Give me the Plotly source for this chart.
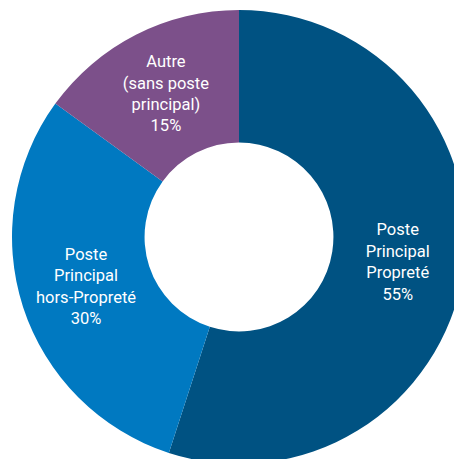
import plotly.graph_objects as go

labels = ["Poste<br>Principal<br>Propreté", "Poste<br>Principal<br>hors-Propreté", "Autre<br>(sans poste<br>principal)"]
values = [55, 30, 15]
colors = ["#005282", "#0079C1", "#7C508A"]

fig = go.Figure(go.Pie(
    labels=labels,
    values=values,
    hole=0.416,
    sort=False,
    direction="clockwise",
    rotation=0,
    marker=dict(colors=colors, line=dict(width=0)),
    textinfo="label+percent",
    texttemplate="%{label}<br>%{value}%",
    textposition="inside",
    insidetextorientation="horizontal",
    insidetextfont=dict(color="white", size=16.5, family="Roboto"),
    showlegend=False,
    hoverinfo="skip",
))

fig.update_layout(
    width=478, height=474,
    margin=dict(l=12, r=12, t=10, b=10),
    paper_bgcolor="white",
    plot_bgcolor="white",
)

fig.write_html(
    "out.html",
    config={"displayModeBar": False},
    post_script="document.body.style.margin='0';document.body.style.overflow='hidden';document.documentElement.style.overflow='hidden';",
)
